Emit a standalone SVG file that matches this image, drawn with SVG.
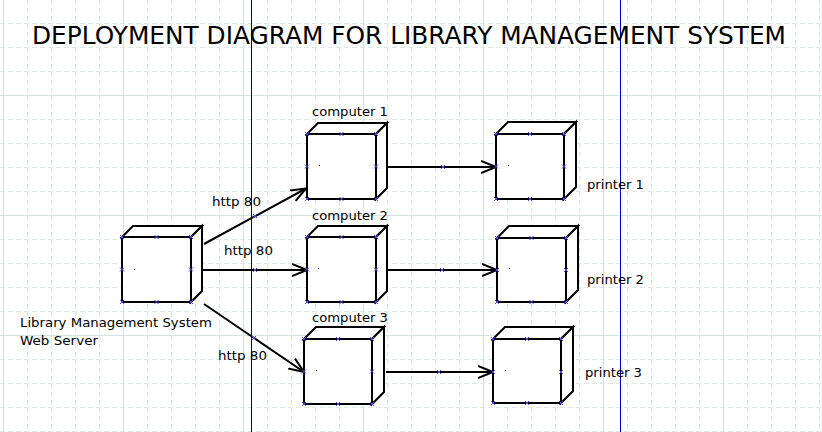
<svg xmlns="http://www.w3.org/2000/svg" xmlns:xlink="http://www.w3.org/1999/xlink" width="822" height="432" viewBox="0 0 822 432">
<defs>
<style>
.gs{stroke:#d6e4e1;stroke-width:1;fill:none}
.gd{stroke:#dde8e6;stroke-width:1;fill:none;stroke-dasharray:5 3}
.box{fill:#ffffff;stroke:#000000;stroke-width:2;stroke-linejoin:miter}
.conn{stroke:#000000;stroke-width:2;fill:none}
.lbl{font-family:"DejaVu Sans","Liberation Sans",sans-serif;font-size:13px;fill:#000000}
.title{font-family:"DejaVu Sans","Liberation Sans",sans-serif;font-size:25px;fill:#000000}
.xm{stroke:#4a4ae0;stroke-width:1;fill:none}
</style>
<marker id="arr" markerUnits="userSpaceOnUse" markerWidth="20" markerHeight="16" refX="15" refY="7" orient="auto" viewBox="0 0 20 16">
<path d="M0,1 L15,7 L0,13" fill="none" stroke="#000000" stroke-width="2"/>
</marker>
<path id="xm" class="xm" d="M-2,-2 L2,2 M-2,2 L2,-2"/>
</defs>
<rect x="0" y="0" width="822" height="432" fill="#ffffff"/>
<g id="grid">
<path class="gd" d="M27.5,0V432M51.5,0V432M75.5,0V432M99.5,0V432M147.5,0V432M171.5,0V432M195.5,0V432M219.5,0V432M267.5,0V432M291.5,0V432M315.5,0V432M339.5,0V432M387.5,0V432M411.5,0V432M435.5,0V432M459.5,0V432M507.5,0V432M531.5,0V432M555.5,0V432M579.5,0V432M627.5,0V432M651.5,0V432M675.5,0V432M699.5,0V432M747.5,0V432M771.5,0V432M795.5,0V432M819.5,0V432"/>
<path class="gd" d="M0,23.5H822M0,47.5H822M0,71.5H822M0,119.5H822M0,143.5H822M0,167.5H822M0,191.5H822M0,239.5H822M0,263.5H822M0,287.5H822M0,311.5H822M0,359.5H822M0,383.5H822M0,407.5H822M0,431.5H822"/>
<path class="gs" d="M3.5,0V432M123.5,0V432M243.5,0V432M363.5,0V432M483.5,0V432M603.5,0V432M723.5,0V432M0,95.5H822M0,215.5H822M0,335.5H822"/>
<path d="M251.5,0V432" stroke="#000080" stroke-width="1"/>
<path d="M620.5,0V432" stroke="#0000c0" stroke-width="1"/>
</g>
<text class="title" x="32" y="44" textLength="754" lengthAdjust="spacingAndGlyphs">DEPLOYMENT DIAGRAM FOR LIBRARY MANAGEMENT SYSTEM</text>
<g id="connectors">
<line class="conn" x1="204" y1="244" x2="306" y2="188.5" marker-end="url(#arr)"/>
<line class="conn" x1="203" y1="270" x2="307" y2="270" marker-end="url(#arr)"/>
<line class="conn" x1="204" y1="304" x2="304" y2="372" marker-end="url(#arr)"/>
<line class="conn" x1="388" y1="167" x2="496" y2="167" marker-end="url(#arr)"/>
<line class="conn" x1="388" y1="270" x2="497" y2="270" marker-end="url(#arr)"/>
<line class="conn" x1="386" y1="372" x2="493" y2="372" marker-end="url(#arr)"/>
<text class="lbl" x="212" y="206" textLength="49" lengthAdjust="spacingAndGlyphs">http 80</text>
<text class="lbl" x="224" y="255" textLength="49" lengthAdjust="spacingAndGlyphs">http 80</text>
<text class="lbl" x="218" y="360" textLength="49" lengthAdjust="spacingAndGlyphs">http 80</text>
<use xlink:href="#xm" x="255" y="216"/>
<use xlink:href="#xm" x="255" y="270"/>
<use xlink:href="#xm" x="254" y="338"/>
<use xlink:href="#xm" x="443" y="167"/>
<use xlink:href="#xm" x="442" y="270"/>
<use xlink:href="#xm" x="439" y="372"/>
</g>
<g id="server">
<path class="box" d="M122,237 L133,226 L202,226 L191,237 Z"/>
<path class="box" d="M191,237 L202,226 L202,291 L191,302 Z"/>
<rect class="box" x="122" y="237" width="69" height="65"/>
<rect x="134" y="269" width="1" height="1" fill="#000"/>
<use xlink:href="#xm" x="122" y="237"/><use xlink:href="#xm" x="156.5" y="237"/><use xlink:href="#xm" x="191" y="237"/>
<use xlink:href="#xm" x="122" y="269.5"/><use xlink:href="#xm" x="191" y="269.5"/>
<use xlink:href="#xm" x="122" y="302"/><use xlink:href="#xm" x="156.5" y="302"/><use xlink:href="#xm" x="191" y="302"/>
<text class="lbl" x="20" y="327" textLength="192" lengthAdjust="spacingAndGlyphs">Library Management System</text>
<text class="lbl" x="20" y="345" textLength="78" lengthAdjust="spacingAndGlyphs">Web Server</text>
</g>
<g id="computer1">
<path class="box" d="M307,134 L318,123 L387,123 L376,134 Z"/>
<path class="box" d="M376,134 L387,123 L387,188 L376,199 Z"/>
<rect class="box" x="307" y="134" width="69" height="65"/>
<rect x="319" y="165" width="1" height="1" fill="#000"/>
<use xlink:href="#xm" x="307" y="134"/><use xlink:href="#xm" x="341.5" y="134"/><use xlink:href="#xm" x="376" y="134"/>
<use xlink:href="#xm" x="307" y="166.5"/><use xlink:href="#xm" x="376" y="166.5"/>
<use xlink:href="#xm" x="307" y="199"/><use xlink:href="#xm" x="341.5" y="199"/><use xlink:href="#xm" x="376" y="199"/>
<text class="lbl" x="312" y="116" textLength="76" lengthAdjust="spacingAndGlyphs">computer 1</text>
</g>
<g id="computer2">
<path class="box" d="M307,237 L318,226 L387,226 L376,237 Z"/>
<path class="box" d="M376,237 L387,226 L387,291 L376,302 Z"/>
<rect class="box" x="307" y="237" width="69" height="65"/>
<rect x="318" y="268" width="1" height="1" fill="#000"/>
<use xlink:href="#xm" x="307" y="237"/><use xlink:href="#xm" x="341.5" y="237"/><use xlink:href="#xm" x="376" y="237"/>
<use xlink:href="#xm" x="307" y="269.5"/><use xlink:href="#xm" x="376" y="269.5"/>
<use xlink:href="#xm" x="307" y="302"/><use xlink:href="#xm" x="341.5" y="302"/><use xlink:href="#xm" x="376" y="302"/>
<text class="lbl" x="312" y="220" textLength="76" lengthAdjust="spacingAndGlyphs">computer 2</text>
</g>
<g id="computer3">
<path class="box" d="M304,339 L316,327 L384,327 L372,339 Z"/>
<path class="box" d="M372,339 L384,327 L384,392 L372,404 Z"/>
<rect class="box" x="304" y="339" width="68" height="65"/>
<rect x="316" y="370" width="1" height="1" fill="#000"/>
<use xlink:href="#xm" x="304" y="339"/><use xlink:href="#xm" x="338" y="339"/><use xlink:href="#xm" x="372" y="339"/>
<use xlink:href="#xm" x="304" y="371.5"/><use xlink:href="#xm" x="372" y="371.5"/>
<use xlink:href="#xm" x="304" y="404"/><use xlink:href="#xm" x="338" y="404"/><use xlink:href="#xm" x="372" y="404"/>
<text class="lbl" x="312" y="322" textLength="76" lengthAdjust="spacingAndGlyphs">computer 3</text>
</g>
<g id="printer1">
<path class="box" d="M496,134 L508,122 L576,122 L564,134 Z"/>
<path class="box" d="M564,134 L576,122 L576,187 L564,199 Z"/>
<rect class="box" x="496" y="134" width="68" height="65"/>
<rect x="508" y="165" width="1" height="1" fill="#000"/>
<use xlink:href="#xm" x="496" y="134"/><use xlink:href="#xm" x="530" y="134"/><use xlink:href="#xm" x="564" y="134"/>
<use xlink:href="#xm" x="496" y="166.5"/><use xlink:href="#xm" x="564" y="166.5"/>
<use xlink:href="#xm" x="496" y="199"/><use xlink:href="#xm" x="530" y="199"/><use xlink:href="#xm" x="564" y="199"/>
<text class="lbl" x="587" y="189" textLength="57" lengthAdjust="spacingAndGlyphs">printer 1</text>
</g>
<g id="printer2">
<path class="box" d="M497,238 L509,226 L578,226 L566,238 Z"/>
<path class="box" d="M566,238 L578,226 L578,290 L566,302 Z"/>
<rect class="box" x="497" y="238" width="69" height="64"/>
<rect x="509" y="268" width="1" height="1" fill="#000"/>
<use xlink:href="#xm" x="497" y="238"/><use xlink:href="#xm" x="531.5" y="238"/><use xlink:href="#xm" x="566" y="238"/>
<use xlink:href="#xm" x="497" y="270"/><use xlink:href="#xm" x="566" y="270"/>
<use xlink:href="#xm" x="497" y="302"/><use xlink:href="#xm" x="531.5" y="302"/><use xlink:href="#xm" x="566" y="302"/>
<text class="lbl" x="587" y="284" textLength="57" lengthAdjust="spacingAndGlyphs">printer 2</text>
</g>
<g id="printer3">
<path class="box" d="M493,339 L505,327 L573,327 L561,339 Z"/>
<path class="box" d="M561,339 L573,327 L573,391 L561,403 Z"/>
<rect class="box" x="493" y="339" width="68" height="64"/>
<rect x="505" y="370" width="1" height="1" fill="#000"/>
<use xlink:href="#xm" x="493" y="339"/><use xlink:href="#xm" x="527" y="339"/><use xlink:href="#xm" x="561" y="339"/>
<use xlink:href="#xm" x="493" y="372"/><use xlink:href="#xm" x="561" y="372"/>
<use xlink:href="#xm" x="493" y="403"/><use xlink:href="#xm" x="527" y="403"/><use xlink:href="#xm" x="561" y="403"/>
<text class="lbl" x="585" y="377" textLength="57" lengthAdjust="spacingAndGlyphs">printer 3</text>
</g>
</svg>
